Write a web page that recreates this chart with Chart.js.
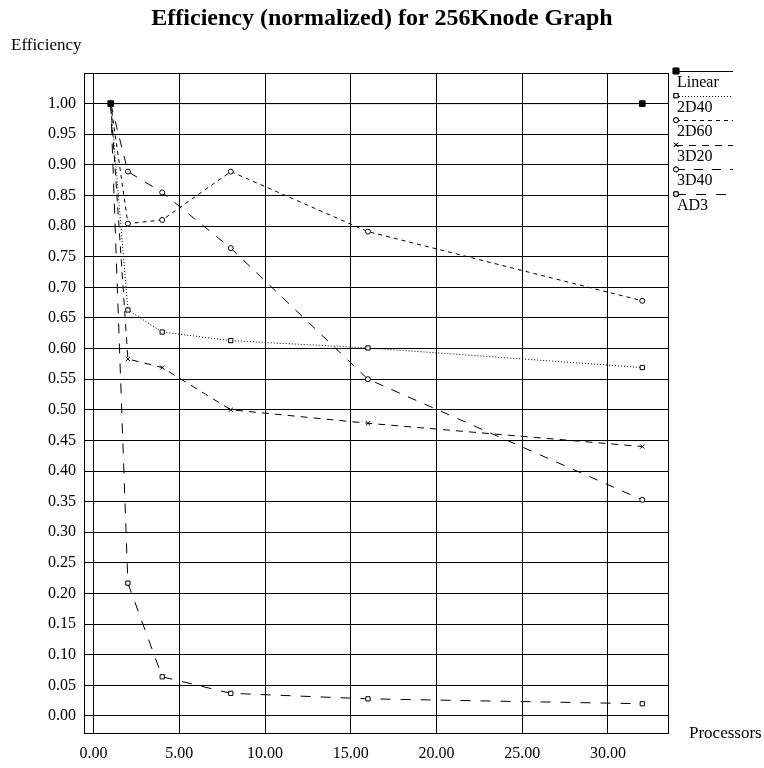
<!DOCTYPE html>
<html>
<head>
<meta charset="utf-8">
<script src="https://cdn.jsdelivr.net/npm/chart.js@4"></script>
<style>
    html, body { margin: 0; padding: 0; background: #fff; }
    #chart-container { position: relative; width: 764px; height: 768px; }
</style>
</head>
<body>
<div id="chart-container"><canvas id="chart-eficiencia"></canvas></div>
<script>
/*
    ========================
      DATOS DE LA GRÁFICA
    ========================
*/
let procesadores = [1, 2, 4, 8, 16, 32];
let procesadoresLinear = [1, 32];

let valoresLinear = [1.00, 1.00];
let valores2D40 = [1.00, 0.663, 0.627, 0.613, 0.601, 0.569];
let valores2D60 = [1.00, 0.804, 0.810, 0.889, 0.791, 0.678];
let valores3D20 = [1.00, 0.583, 0.569, 0.500, 0.478, 0.440];
let valores3D40 = [1.00, 0.889, 0.855, 0.764, 0.550, 0.353];
let valoresAD3 = [1.00, 0.217, 0.064, 0.037, 0.028, 0.020];

let ticksX = [0, 5, 10, 15, 20, 25, 30];
let ticksY = [0, 0.05, 0.10, 0.15, 0.20, 0.25, 0.30, 0.35, 0.40, 0.45, 0.50,
              0.55, 0.60, 0.65, 0.70, 0.75, 0.80, 0.85, 0.90, 0.95, 1.00];

let fuente = 'Liberation Serif, Times New Roman, serif';

function puntos(xs, ys) {
    return xs.map((x, i) => ({ x: x, y: ys[i] }));
}

function serie(label, xs, ys, dash, estilo, relleno, radio) {
    return {
        label: label,
        data: puntos(xs, ys),
        borderColor: '#000',
        backgroundColor: relleno,
        borderWidth: 1,
        borderDash: dash,
        pointStyle: estilo,
        pointRadius: radio,
        pointBorderWidth: 1,
        pointBorderColor: '#000',
        pointBackgroundColor: relleno,
        tension: 0,
        fill: false
    };
}

let datosEficiencia = {
    datasets: [
        serie('Linear', procesadoresLinear, valoresLinear, [], 'rect', '#000', 4),
        serie('2D40', procesadores, valores2D40, [1, 2], 'rect', '#fff', 3),
        serie('2D60', procesadores, valores2D60, [4, 4], 'circle', '#fff', 2.5),
        serie('3D20', procesadores, valores3D20, [7, 6], 'crossRot', '#fff', 3),
        serie('3D40', procesadores, valores3D40, [9, 9], 'circle', '#fff', 2.5),
        serie('AD3', procesadores, valoresAD3, [10, 10], 'rect', '#fff', 3)
    ]
};

/*
    ========================
       PLUGINS DE DIBUJO
    ========================
*/
let textosExtra = {
    id: 'textosExtra',
    afterDraw(chart) {
        let ctx = chart.ctx;
        let area = chart.chartArea;
        ctx.save();
        // marco del área
        ctx.strokeStyle = '#000';
        ctx.lineWidth = 1;
        ctx.setLineDash([]);
        ctx.strokeRect(Math.round(area.left) + 0.5, Math.round(area.top) + 0.5,
                       Math.round(area.right - area.left), Math.round(area.bottom - area.top));

        ctx.fillStyle = '#000';
        ctx.textBaseline = 'middle';
        ctx.textAlign = 'center';
        ctx.font = 'bold 24px ' + fuente;
        ctx.fillText('Efficiency (normalized) for 256Knode Graph', 382, 19);

        ctx.font = '17px ' + fuente;
        ctx.textAlign = 'left';
        ctx.fillText('Efficiency', 11, 46);
        ctx.fillText('Processors', 689, 734);

        // leyenda
        let y0 = 71;
        chart.data.datasets.forEach((ds, i) => {
            let y = y0 + i * 24.6;
            ctx.strokeStyle = '#000';
            ctx.lineWidth = 1;
            ctx.setLineDash(ds.borderDash);
            ctx.beginPath();
            ctx.moveTo(676, Math.round(y) + 0.5);
            ctx.lineTo(733, Math.round(y) + 0.5);
            ctx.stroke();
            ctx.setLineDash([]);
            Chart.helpers.drawPoint(ctx, {
                pointStyle: ds.pointStyle,
                radius: ds.pointRadius,
                borderWidth: 1
            }, 676, y);
            ctx.fillStyle = ds.pointBackgroundColor;
            ctx.fill();
            ctx.stroke();
            ctx.fillStyle = '#000';
            ctx.textBaseline = 'alphabetic';
            ctx.font = '16px ' + fuente;
            ctx.fillText(ds.label, 677, y + 16);
        });
        ctx.restore();
    }
};

let opcionesEficiencia = {
    responsive: true,
    maintainAspectRatio: false,
    animation: false,
    layout: {
        padding: { top: 73, right: 96, left: 0, bottom: 0 }
    },
    scales: {
        x: {
            type: 'linear',
            min: -0.56,
            max: 33.5,
            afterBuildTicks: (eje) => { eje.ticks = ticksX.map(v => ({ value: v })); },
            afterFit: (eje) => { eje.height = 35; },
            grid: { color: '#000', lineWidth: 1, drawTicks: false },
            border: { display: false },
            ticks: {
                color: '#000',
                padding: 11,
                maxRotation: 0,
                font: { family: fuente, size: 16 },
                callback: (v) => v.toFixed(2)
            }
        },
        y: {
            type: 'linear',
            min: -0.0278,
            max: 1.05,
            afterBuildTicks: (eje) => { eje.ticks = ticksY.map(v => ({ value: v })); },
            afterFit: (eje) => { eje.width = 84; },
            grid: { color: '#000', lineWidth: 1, drawTicks: false },
            border: { display: false },
            ticks: {
                color: '#000',
                padding: 8,
                font: { family: fuente, size: 16 },
                callback: (v) => v.toFixed(2)
            }
        }
    },
    plugins: {
        legend: false,
        title: { display: false },
        tooltip: { enabled: false }
    }
};

let ctxEficiencia = document.getElementById('chart-eficiencia');

let miGrafica = new Chart(ctxEficiencia, {
    type: 'line',
    data: datosEficiencia,
    options: opcionesEficiencia,
    plugins: [textosExtra]
});
</script>
</body>
</html>
